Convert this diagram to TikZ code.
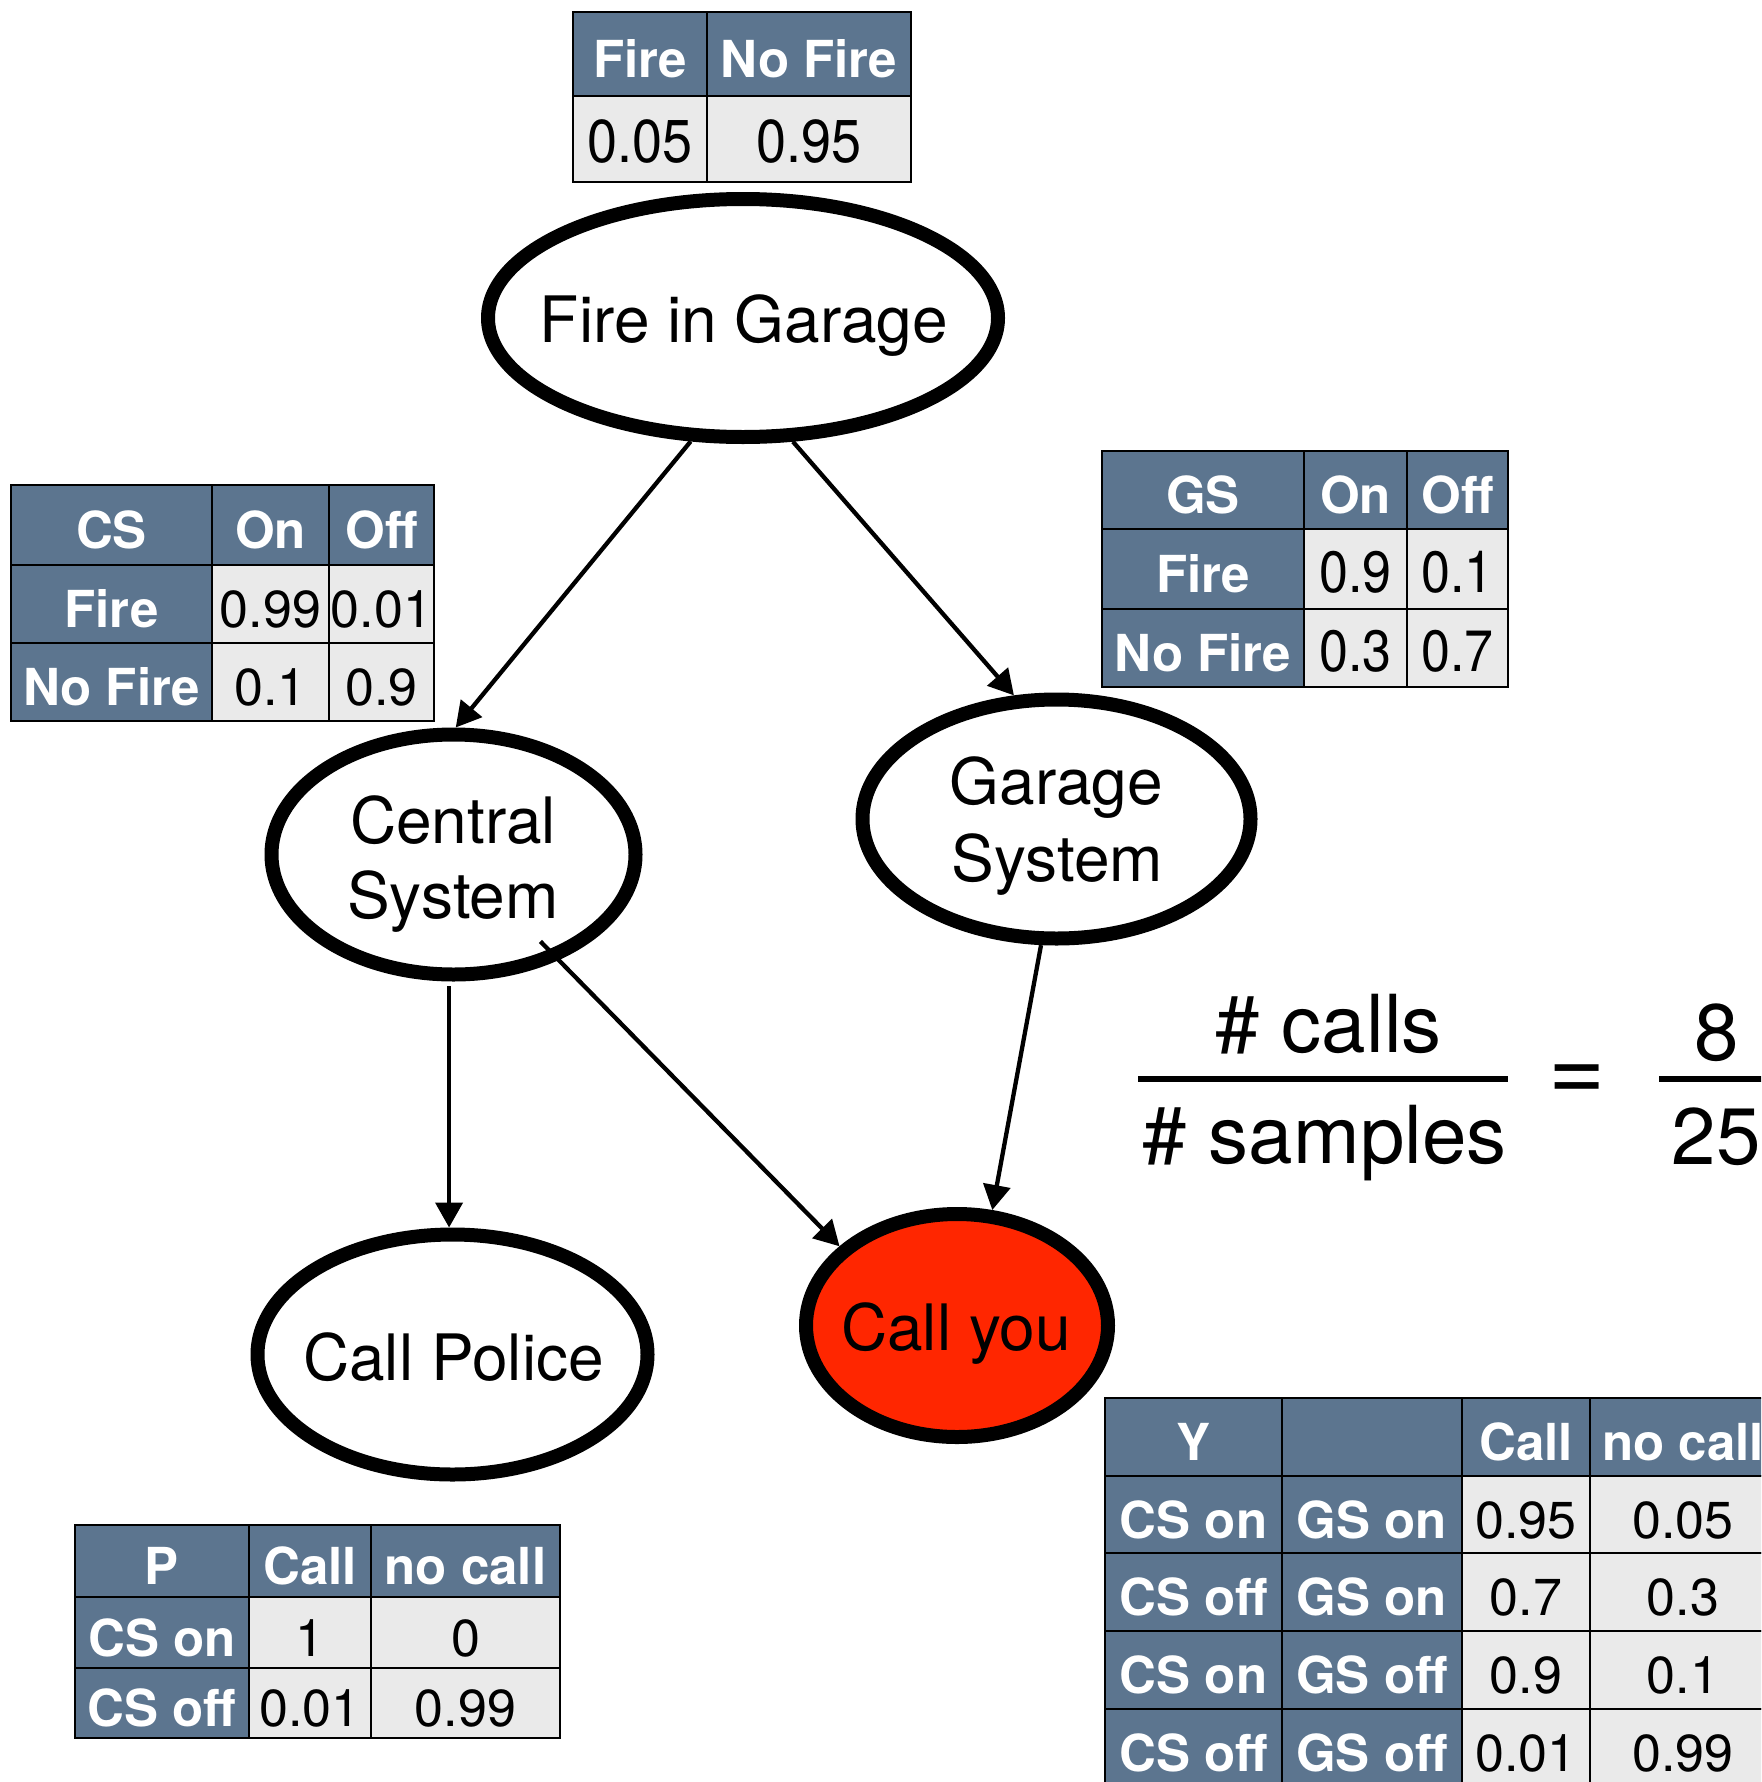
\documentclass[tikz,border=0pt]{standalone}
\usepackage{fontspec}
\usepackage{graphicx}
\setmainfont{TeX Gyre Heros}
\usetikzlibrary{arrows.meta,shapes.geometric,calc}

\definecolor{hdrblue}{RGB}{92,117,143}
\definecolor{cellgray}{RGB}{234,234,234}
\definecolor{alarmred}{RGB}{255,38,0}

% font size in points (1 unit = 1pt)
\newcommand\px[1]{\fontsize{#1}{#1}\selectfont}
% slightly taller digits
\newcommand\tallnum[1]{\scalebox{1}[1.12]{#1}}
% table cell: name, x1, y1, x2, y2, style, text
\newcommand\tcell[7]{\node[#6, minimum width={#4-#2}, minimum height={#5-#3}] (#1) at (#2,#3) {#7};}

\begin{document}
\begin{tikzpicture}[x=1pt,y=-1pt,
  cellbase/.style={anchor=north west, draw=black, line width=2.2pt, inner sep=0pt,
                   outer sep=0pt, text height=47pt, text depth=0pt},
  hd/.style={cellbase, fill=hdrblue, text=white, font=\bfseries\px{51}},
  vl/.style={cellbase, fill=cellgray, text=black, font=\px{52}},
  bn/.style={ellipse, draw=black, line width=14pt, fill=white, inner sep=0pt, outer sep=7pt},
  lbl/.style={anchor=base, font=\px{64}, inner sep=0pt},
  link/.style={line width=4.3pt, -{Triangle[length=25pt,width=27pt]}},
  frac/.style={anchor=base, font=\px{80}, inner sep=0pt},
  bar/.style={line width=6pt}]

\useasboundingbox (0,0) rectangle (1761,1782);
\clip (0,0) rectangle (1761,1782);

% ---- Bayesian network nodes ----
\node[bn, minimum width=510, minimum height=238] (fire) at (743,318) {};
\node[bn, minimum width=364, minimum height=240] (cs) at (453.5,854.5) {};
\node[bn, minimum width=388, minimum height=239] (gs) at (1056.5,819) {};
\node[bn, minimum width=390, minimum height=240] (cp) at (452.5,1354.5) {};
\node[bn, fill=alarmred, minimum width=302, minimum height=223] (cy) at (957,1325.5) {};

\node[lbl] (firelbl) at (744,342) {Fire in Garage};
\node[lbl] (cslbla) at (453,843) {Central};
\node[lbl] (cslblb) at (453,918) {System};
\node[lbl] (gslbla) at (1056.5,804) {Garage};
\node[lbl] (gslblb) at (1057.5,881.5) {System};
\node[lbl] (cplbl) at (453.5,1380) {Call Police};
\node[lbl] (cylbl) at (956,1350) {Call you};

% ---- edges ----
\draw[link] (fire.247.5) -- (cs.89);
\draw[link] (fire.292) -- (gs.109);
\draw[link, shorten <=5pt] (cs.268) -- (cs.268 |- cp.north);
\coordinate (csout) at ([shift={(-45:123pt)}]cs.center);
\draw[link] (csout) -- (cy.146);
\draw[link] (gs.263) -- (cy.73);

% ---- P(Fire) ----
\tcell{pf1}{573}{12}{707}{96}{hd}{Fire}
\tcell{pf2}{707}{12}{911}{96}{hd}{No Fire}
\tcell{pf3}{573}{96}{707}{182}{vl,font=\px{54}}{\tallnum{0.05}}
\tcell{pf4}{707}{96}{911}{182}{vl,font=\px{54}}{\tallnum{0.95}}

% ---- P(CS | Fire) ----
\tcell{cs11}{11}{485}{212}{565}{hd}{CS}
\tcell{cs12}{212}{485}{329}{565}{hd}{On}
\tcell{cs13}{329}{485}{434}{565}{hd}{Off}
\tcell{cs21}{11}{565}{212}{643}{hd}{Fire}
\tcell{cs22}{212}{565}{329}{643}{vl}{0.99}
\tcell{cs23}{329}{565}{434}{643}{vl}{0.01}
\tcell{cs31}{11}{643}{212}{721}{hd}{No Fire}
\tcell{cs32}{212}{643}{329}{721}{vl}{0.1}
\tcell{cs33}{329}{643}{434}{721}{vl}{0.9}

% ---- P(GS | Fire) ----
\tcell{gs11}{1102}{451}{1304}{529}{hd}{GS}
\tcell{gs12}{1304}{451}{1407}{529}{hd}{On}
\tcell{gs13}{1407}{451}{1508}{529}{hd}{Off}
\tcell{gs21}{1102}{529}{1304}{609}{hd}{Fire}
\tcell{gs22}{1304}{529}{1407}{609}{vl}{\tallnum{0.9}}
\tcell{gs23}{1407}{529}{1508}{609}{vl}{\tallnum{0.1}}
\tcell{gs31}{1102}{609}{1304}{687}{hd}{No Fire}
\tcell{gs32}{1304}{609}{1407}{687}{vl}{\tallnum{0.3}}
\tcell{gs33}{1407}{609}{1508}{687}{vl}{\tallnum{0.7}}

% ---- P(Police | CS) ----
\tcell{pp11}{75}{1525}{249}{1597}{hd}{P}
\tcell{pp12}{249}{1525}{371}{1597}{hd}{Call}
\tcell{pp13}{371}{1525}{560}{1597}{hd}{no call}
\tcell{pp21}{75}{1597}{249}{1668}{hd}{CS on}
\tcell{pp22}{249}{1597}{371}{1668}{vl}{1}
\tcell{pp23}{371}{1597}{560}{1668}{vl}{0}
\tcell{pp31}{75}{1668}{249}{1738}{hd}{CS off}
\tcell{pp32}{249}{1668}{371}{1738}{vl}{0.01}
\tcell{pp33}{371}{1668}{560}{1738}{vl}{0.99}

% ---- P(You | CS, GS) ----
\tcell{py11}{1105}{1398}{1282}{1476}{hd}{Y}
\tcell{py12}{1282}{1398}{1462}{1476}{hd}{}
\tcell{py13}{1462}{1398}{1590}{1476}{hd}{Call}
\tcell{py14}{1590}{1398}{1776}{1476}{hd}{no call}
\tcell{py21}{1105}{1476}{1282}{1553}{hd}{CS on}
\tcell{py22}{1282}{1476}{1462}{1553}{hd}{GS on}
\tcell{py23}{1462}{1476}{1590}{1553}{vl}{0.95}
\tcell{py24}{1590}{1476}{1776}{1553}{vl}{0.05}
\tcell{py31}{1105}{1553}{1282}{1631}{hd}{CS off}
\tcell{py32}{1282}{1553}{1462}{1631}{hd}{GS on}
\tcell{py33}{1462}{1553}{1590}{1631}{vl}{0.7}
\tcell{py34}{1590}{1553}{1776}{1631}{vl}{0.3}
\tcell{py41}{1105}{1631}{1282}{1709}{hd}{CS on}
\tcell{py42}{1282}{1631}{1462}{1709}{hd}{GS off}
\tcell{py43}{1462}{1631}{1590}{1709}{vl}{0.9}
\tcell{py44}{1590}{1631}{1776}{1709}{vl}{0.1}
\tcell{py51}{1105}{1709}{1282}{1787}{hd}{CS off}
\tcell{py52}{1282}{1709}{1462}{1787}{hd}{GS off}
\tcell{py53}{1462}{1709}{1590}{1787}{vl}{0.01}
\tcell{py54}{1590}{1709}{1776}{1787}{vl}{0.99}

% ---- sampling estimate ----
\node[frac] (fnum) at (1328.5,1052) {\# calls};
\node[frac] (fden) at (1324.5,1163) {\# samples};
\draw[bar] (1138,1078.5) -- (1508,1078.5);
\node[frac, font=\px{98}] (feq) at (1577.5,1101) {=};
\node[frac] (rnum) at (1716.5,1060) {8};
\node[frac] (rden) at (1716,1164) {25};
\draw[bar] (1659,1078.5) -- (1790,1078.5);

\end{tikzpicture}
\end{document}
